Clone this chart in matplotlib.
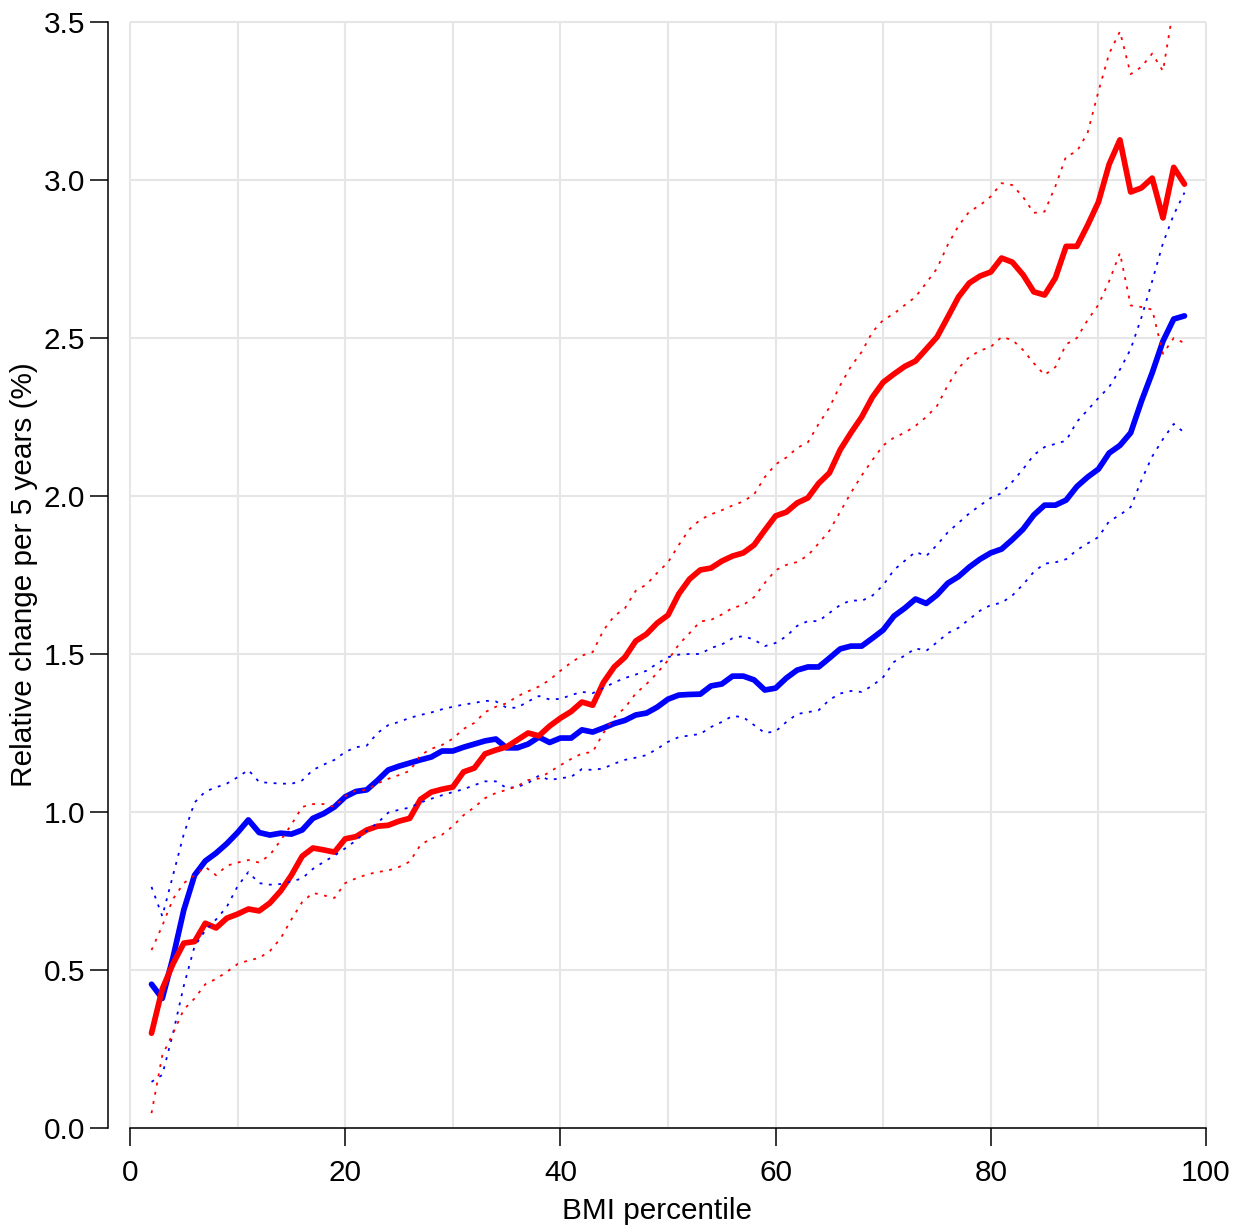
import matplotlib
matplotlib.use("Agg")
import matplotlib.pyplot as plt

plt.rcParams["font.family"] = ["Liberation Sans", "DejaVu Sans"]

percentile = list(range(2, 99))

blue_mean = [0.455, 0.41, 0.54, 0.69, 0.80, 0.845, 0.87, 0.90, 0.935, 0.975,
             0.935, 0.927, 0.933, 0.93, 0.943, 0.98, 0.995, 1.016, 1.048, 1.065,
             1.07, 1.10, 1.133, 1.145, 1.155, 1.165, 1.174, 1.193, 1.193, 1.205,
             1.215, 1.225, 1.231, 1.203, 1.203, 1.215, 1.237, 1.22, 1.234, 1.234,
             1.26, 1.253, 1.266, 1.28, 1.29, 1.307, 1.313, 1.332, 1.357, 1.37,
             1.372, 1.373, 1.399, 1.405, 1.43, 1.43, 1.418, 1.386, 1.392, 1.424,
             1.449, 1.459, 1.459, 1.487, 1.516, 1.525, 1.525, 1.55, 1.576, 1.62,
             1.645, 1.674, 1.66, 1.687, 1.724, 1.745, 1.775, 1.80, 1.82, 1.832,
             1.862, 1.895, 1.94, 1.971, 1.971, 1.987, 2.03, 2.06, 2.085, 2.136,
             2.16, 2.20, 2.30, 2.39, 2.49, 2.56, 2.57]
blue_upper = [0.763, 0.67, 0.80, 0.93, 1.03, 1.065, 1.078, 1.09, 1.11, 1.133,
              1.095, 1.092, 1.09, 1.089, 1.10, 1.133, 1.15, 1.165, 1.19, 1.205,
              1.21, 1.25, 1.275, 1.285, 1.298, 1.307, 1.315, 1.325, 1.333, 1.34,
              1.345, 1.352, 1.35, 1.33, 1.33, 1.35, 1.367, 1.356, 1.358, 1.37,
              1.38, 1.376, 1.392, 1.41, 1.424, 1.435, 1.447, 1.47, 1.49, 1.498,
              1.50, 1.50, 1.519, 1.53, 1.55, 1.557, 1.545, 1.525, 1.535, 1.556,
              1.589, 1.604, 1.604, 1.63, 1.655, 1.67, 1.668, 1.685, 1.718, 1.766,
              1.795, 1.823, 1.81, 1.845, 1.885, 1.915, 1.945, 1.97, 1.994, 2.009,
              2.045, 2.085, 2.13, 2.155, 2.165, 2.175, 2.235, 2.272, 2.31, 2.345,
              2.40, 2.465, 2.565, 2.68, 2.80, 2.89, 2.96]
blue_lower = [0.146, 0.168, 0.30, 0.45, 0.575, 0.625, 0.66, 0.70, 0.765, 0.81,
              0.775, 0.77, 0.772, 0.78, 0.79, 0.82, 0.842, 0.862, 0.885, 0.91,
              0.94, 0.965, 0.998, 1.007, 1.014, 1.03, 1.042, 1.053, 1.063, 1.072,
              1.085, 1.097, 1.097, 1.076, 1.079, 1.092, 1.115, 1.101, 1.107, 1.111,
              1.136, 1.133, 1.138, 1.153, 1.165, 1.172, 1.18, 1.20, 1.222, 1.237,
              1.242, 1.247, 1.269, 1.285, 1.304, 1.30, 1.275, 1.25, 1.255, 1.285,
              1.31, 1.316, 1.322, 1.355, 1.375, 1.383, 1.38, 1.40, 1.427, 1.475,
              1.495, 1.518, 1.51, 1.537, 1.566, 1.583, 1.61, 1.637, 1.655, 1.662,
              1.685, 1.72, 1.76, 1.786, 1.79, 1.80, 1.829, 1.85, 1.87, 1.92,
              1.94, 1.965, 2.05, 2.125, 2.18, 2.228, 2.20]

red_mean = [0.30, 0.44, 0.52, 0.585, 0.59, 0.648, 0.633, 0.664, 0.677, 0.693,
            0.687, 0.712, 0.75, 0.80, 0.86, 0.886, 0.88, 0.873, 0.915, 0.922,
            0.943, 0.955, 0.958, 0.971, 0.98, 1.04, 1.063, 1.072, 1.079, 1.127,
            1.139, 1.184, 1.196, 1.206, 1.228, 1.25, 1.241, 1.272, 1.297, 1.318,
            1.348, 1.338, 1.41, 1.459, 1.49, 1.541, 1.563, 1.598, 1.623, 1.69,
            1.737, 1.766, 1.772, 1.794, 1.81, 1.82, 1.845, 1.892, 1.937, 1.949,
            1.978, 1.994, 2.04, 2.073, 2.146, 2.20, 2.25, 2.313, 2.36, 2.386,
            2.41, 2.427, 2.465, 2.503, 2.566, 2.63, 2.674, 2.696, 2.709, 2.753,
            2.74, 2.70, 2.646, 2.636, 2.69, 2.79, 2.79, 2.857, 2.93, 3.05,
            3.127, 2.962, 2.975, 3.006, 2.88, 3.04, 2.987]
red_upper = [0.563, 0.64, 0.725, 0.775, 0.80, 0.826, 0.80, 0.83, 0.84, 0.848,
             0.84, 0.864, 0.91, 0.96, 1.016, 1.025, 1.025, 1.016, 1.05, 1.068,
             1.07, 1.09, 1.105, 1.117, 1.13, 1.18, 1.20, 1.212, 1.232, 1.263,
             1.282, 1.316, 1.333, 1.344, 1.366, 1.382, 1.397, 1.418, 1.447, 1.473,
             1.495, 1.506, 1.575, 1.62, 1.645, 1.70, 1.72, 1.757, 1.79, 1.845,
             1.895, 1.925, 1.942, 1.955, 1.97, 1.983, 2.005, 2.06, 2.10, 2.122,
             2.152, 2.17, 2.228, 2.28, 2.35, 2.41, 2.456, 2.519, 2.557, 2.577,
             2.604, 2.63, 2.674, 2.72, 2.795, 2.855, 2.90, 2.92, 2.948, 2.99,
             2.984, 2.946, 2.896, 2.90, 2.98, 3.075, 3.09, 3.15, 3.28, 3.40,
             3.47, 3.335, 3.358, 3.40, 3.345, 3.55, 3.65]
red_lower = [0.047, 0.23, 0.30, 0.375, 0.41, 0.455, 0.472, 0.494, 0.519, 0.53,
             0.538, 0.56, 0.60, 0.66, 0.715, 0.744, 0.736, 0.728, 0.775, 0.79,
             0.802, 0.81, 0.815, 0.826, 0.843, 0.896, 0.916, 0.928, 0.955, 0.99,
             1.015, 1.044, 1.06, 1.07, 1.082, 1.101, 1.106, 1.127, 1.148, 1.168,
             1.185, 1.19, 1.25, 1.30, 1.33, 1.375, 1.405, 1.44, 1.48, 1.53,
             1.566, 1.603, 1.608, 1.625, 1.646, 1.655, 1.68, 1.725, 1.765, 1.782,
             1.791, 1.812, 1.85, 1.89, 1.95, 2.01, 2.065, 2.114, 2.16, 2.185,
             2.20, 2.222, 2.25, 2.285, 2.35, 2.405, 2.44, 2.46, 2.472, 2.503,
             2.494, 2.462, 2.42, 2.383, 2.408, 2.48, 2.50, 2.557, 2.605, 2.68,
             2.769, 2.603, 2.598, 2.59, 2.45, 2.50, 2.484]

xticks = [0, 20, 40, 60, 80, 100]
yticks = [0.0, 0.5, 1.0, 1.5, 2.0, 2.5, 3.0, 3.5]

fig = plt.figure(figsize=(12.45, 12.27), dpi=100)
ax = fig.add_axes([108 / 1245, 99 / 1227, 1098 / 1245, 1106 / 1227])
ax.set_xlim(-2.045, 100)
ax.set_ylim(0, 3.5)

# grid only inside the data box, like the R original
grid_col = "#e6e6e6"
ax.vlines(range(0, 101, 10), 0, 3.5, color=grid_col, lw=1.5, zorder=0, clip_on=False)
ax.hlines(yticks, 0, 100, color=grid_col, lw=1.5, zorder=0, clip_on=False)

solid = dict(lw=4.1, solid_capstyle="round", solid_joinstyle="round")
dotted = dict(lw=1.3, linestyle=(0, (1.6, 3.6)))

ax.plot(percentile, blue_mean, color="#0000ff", **solid)
ax.plot(percentile, red_mean, color="#ff0000", **solid)
ax.plot(percentile, blue_upper, color="#0000ff", **dotted)
ax.plot(percentile, blue_lower, color="#0000ff", **dotted)
ax.plot(percentile, red_upper, color="#ff0000", **dotted)
ax.plot(percentile, red_lower, color="#ff0000", **dotted)

for s in ["top", "right"]:
    ax.spines[s].set_visible(False)
ax.spines["left"].set_bounds(0, 3.5)
ax.spines["bottom"].set_bounds(0, 100)
ax.spines["left"].set_linewidth(1.1)
ax.spines["bottom"].set_linewidth(1.1)

fs = 21.4
ax.set_xticks(xticks)
ax.set_yticks(yticks)
ax.set_yticklabels(["%.1f" % v for v in yticks])
ax.tick_params(axis="both", length=13, width=1.1, labelsize=fs)
ax.tick_params(axis="x", pad=9)
ax.tick_params(axis="y", pad=3.5)

ax.set_xlabel("BMI percentile", fontsize=fs)
ax.set_ylabel("Relative change per 5 years (%)", fontsize=fs)
ax.xaxis.label.set_va("top")
ax.xaxis.set_label_coords(0.5, -0.0625)
ax.yaxis.label.set_va("center")
ax.yaxis.set_label_coords(-0.0765, 0.5)

fig.savefig("out.png", dpi=100)
